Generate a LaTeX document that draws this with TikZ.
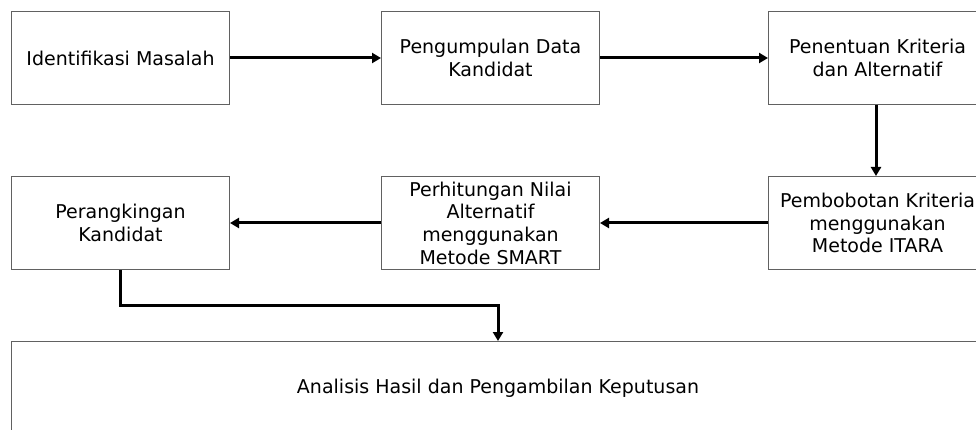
\documentclass[tikz,border=0pt]{standalone}
\usepackage{fontspec}
\setmainfont{DejaVu Sans}
\usetikzlibrary{arrows.meta}
\begin{document}
\begin{tikzpicture}[x=1pt,y=-1pt,
  stepbox/.style={draw=black!62,line width=1pt,minimum width=218pt,minimum height=93pt,
    inner sep=0pt,align=center,font=\fontsize{19}{22.7}\selectfont,anchor=north west},
  flow/.style={line width=3pt,-{Triangle[length=9pt,width=10pt]}}]
\useasboundingbox (0,0) rectangle (976,430);
\begin{scope}
\clip (0,0) rectangle (976,430);
\node[stepbox] (b1) at (11,11) {Identifikasi Masalah};
\node[stepbox] (b2) at (381,11) {Pengumpulan Data\\Kandidat};
\node[stepbox] (b3) at (768,11) {Penentuan Kriteria\\dan Alternatif};
\node[stepbox] (b4) at (768,176) {Pembobotan Kriteria\\menggunakan\\Metode ITARA};
\node[stepbox] (b5) at (381,176) {Perhitungan Nilai\\Alternatif\\menggunakan\\Metode SMART};
\node[stepbox] (b6) at (11,176) {Perangkingan\\Kandidat};
\node[stepbox,minimum width=973pt] (b7) at (11,341) {Analisis Hasil dan Pengambilan Keputusan};
\end{scope}
\coordinate (c1) at (876,105);
\coordinate (c2) at (876,176);
\draw[flow] (b1.east) -- (b2.west);
\draw[flow] (b2.east) -- (b3.west);
\draw[flow] (c1) -- (c2);
\draw[flow] (b4.west) -- (b5.west -| b5.east);
\draw[flow] (b5.west) -- (b6.east);
\draw[flow] (b6.south) -- ++(0,35) -| (b7.north);
\end{tikzpicture}
\end{document}
